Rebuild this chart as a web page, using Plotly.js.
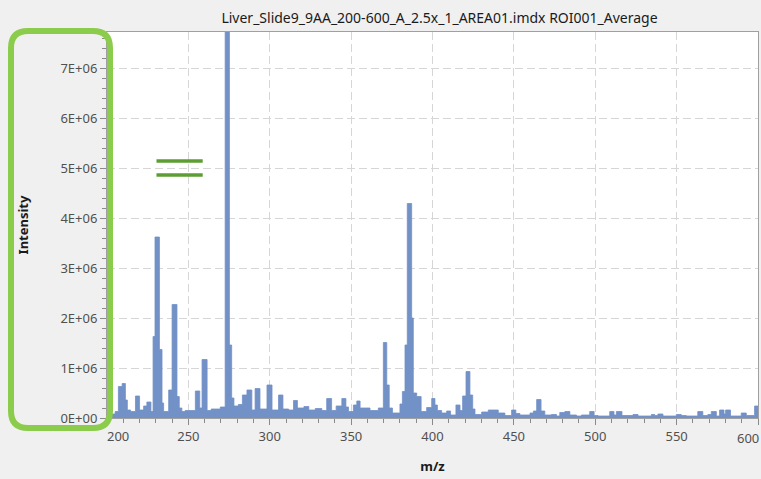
<!DOCTYPE html>
<html>
<head>
<meta charset="utf-8">
<script src="https://cdn.plot.ly/plotly-3.0.1.min.js"></script>
<style>
  html, body { margin: 0; padding: 0; background: #f0f0f0; }
  #chart { width: 761px; height: 479px; }
</style>
</head>
<body>
<div id="chart"></div>
<script>
// m/z where each step segment of the averaged spectrum starts
const mzStart = [200, 205, 207, 209.3, 211.3, 212.5, 214.5, 217.5, 220, 222.5, 224.5, 227, 228.3, 229.5, 232.2, 233.8, 234.8, 237.9, 240, 243, 244.4, 246, 248, 254.3, 257, 258.4, 261.5, 264, 269.6, 272.6, 275.2, 276.6, 278, 280.7, 283.2, 286, 289, 291, 294, 298.3, 301.4, 305.4, 308.1, 311.6, 314.6, 317, 321, 324, 328, 332, 335, 338, 340.8, 344.3, 346.8, 348.4, 351.4, 353.5, 355.5, 361.6, 366.7, 369.8, 371.9, 373.4, 375.4, 380, 381.5, 383.1, 384.5, 387.2, 388.2, 390.3, 393, 396.4, 399.5, 401.5, 403, 405.6, 408.7, 411.1, 414.4, 416.9, 418.5, 420.6, 423, 424.7, 426.1, 430.2, 434.3, 440.4, 444.5, 448.6, 451.2, 453.7, 459.9, 462, 464, 466.7, 469, 473.1, 476.2, 478.2, 481.3, 484.4, 488.5, 491.5, 496.6, 499.3, 501.7, 508.9, 511.5, 513, 516.4, 523.2, 526.3, 530.4, 534.5, 536.5, 538.5, 541.6, 549.8, 552.9, 555.9, 563, 566.1, 569.2, 571.3, 574.4, 576.4, 579.1, 580.1, 583.1, 589.7, 592.8, 597.9];
const mzEnd = 600;
// intensity of each segment
const intensity = [0.08e6, 0.13e6, 0.63e6, 0.69e6, 0.36e6, 0.16e6, 0.13e6, 0.44e6, 0.16e6, 0.24e6, 0.32e6, 0.13e6, 1.63e6, 3.62e6, 1.37e6, 0.30e6, 0.13e6, 0.56e6, 2.27e6, 0.43e6, 0.20e6, 0.13e6, 0.15e6, 0.54e6, 0.20e6, 1.17e6, 0.15e6, 0.18e6, 0.22e6, 9.0e6, 1.46e6, 0.40e6, 0.24e6, 0.27e6, 0.46e6, 0.56e6, 0.16e6, 0.59e6, 0.18e6, 0.66e6, 0.16e6, 0.46e6, 0.18e6, 0.16e6, 0.35e6, 0.20e6, 0.23e6, 0.16e6, 0.19e6, 0.15e6, 0.39e6, 0.15e6, 0.24e6, 0.39e6, 0.22e6, 0.13e6, 0.26e6, 0.34e6, 0.20e6, 0.15e6, 0.20e6, 1.51e6, 0.66e6, 0.20e6, 0.10e6, 0.28e6, 0.53e6, 1.46e6, 4.29e6, 2.0e6, 0.50e6, 0.43e6, 0.13e6, 0.21e6, 0.39e6, 0.26e6, 0.15e6, 0.10e6, 0.14e6, 0.06e6, 0.26e6, 0.15e6, 0.44e6, 0.93e6, 0.46e6, 0.18e6, 0.07e6, 0.12e6, 0.16e6, 0.10e6, 0.05e6, 0.16e6, 0.09e6, 0.06e6, 0.10e6, 0.14e6, 0.37e6, 0.14e6, 0.06e6, 0.07e6, 0.04e6, 0.11e6, 0.13e6, 0.06e6, 0.04e6, 0.06e6, 0.13e6, 0.05e6, 0.04e6, 0.13e6, 0.06e6, 0.13e6, 0.05e6, 0.07e6, 0.04e6, 0.04e6, 0.07e6, 0.05e6, 0.08e6, 0.04e6, 0.07e6, 0.05e6, 0.04e6, 0.13e6, 0.05e6, 0.07e6, 0.13e6, 0.04e6, 0.16e6, 0.08e6, 0.16e6, 0.04e6, 0.10e6, 0.05e6, 0.24e6];

const xTickVals = [200, 250, 300, 350, 400, 450, 500, 550, 600];
const xTickText = ['\u2007\u2007\u2007200', '250', '300', '350', '400', '450', '500', '550', ''];
const xLastLabel = '600';
const yTickVals = [0, 1e6, 2e6, 3e6, 4e6, 5e6, 6e6, 7e6];
const yTickText = ['0E+00', '1E+06', '2E+06', '3E+06', '4E+06', '5E+06', '6E+06', '7E+06'];

const chartTitle = 'Liver_Slide9_9AA_200-600_A_2.5x_1_AREA01.imdx ROI001_Average';
const xTitle = 'm/z';
const yTitle = 'Intensity';

// layout geometry (pixels)
const W = 761, H = 479;
const M = { l: 107, r: 3, t: 32, b: 61 };
const plotW = W - M.l - M.r, plotH = H - M.t - M.b;
const px2paperX = p => (p - M.l) / plotW;
const px2paperY = p => (H - M.b - p) / plotH;

const barColor = '#7291c6';

const xs = mzStart.concat([mzEnd]);
const ys = intensity.concat([intensity[intensity.length - 1]]);

const trace = {
  type: 'scatter',
  mode: 'lines',
  x: xs,
  y: ys,
  line: { shape: 'hv', color: barColor, width: 0.8 },
  fill: 'tozeroy',
  fillcolor: barColor,
  hoverinfo: 'skip',
  showlegend: false
};

// rounded green highlight rectangle around the y axis
const rx0 = px2paperX(11), rx1 = px2paperX(110);
const ry1 = px2paperY(31), ry0 = px2paperY(428);
const rr = 17;
const rdx = rr / plotW, rdy = rr / plotH;
const rectPath = `M ${rx0 + rdx},${ry1} L ${rx1 - rdx},${ry1} Q ${rx1},${ry1} ${rx1},${ry1 - rdy} ` +
  `L ${rx1},${ry0 + rdy} Q ${rx1},${ry0} ${rx1 - rdx},${ry0} L ${rx0 + rdx},${ry0} ` +
  `Q ${rx0},${ry0} ${rx0},${ry0 + rdy} L ${rx0},${ry1 - rdy} Q ${rx0},${ry1} ${rx0 + rdx},${ry1} Z`;

const fam = 'Noto Sans, Open Sans, sans-serif';
const axisFont = { family: fam, size: 13, color: '#505050' };
const titleFont = { family: fam, size: 13, color: '#1a1a1a' };

const layout = {
  width: W, height: H,
  margin: M,
  paper_bgcolor: '#f0f0f0',
  plot_bgcolor: '#ffffff',
  showlegend: false,
  title: {
    text: chartTitle,
    font: { family: fam, size: 14, color: '#1a1a1a' },
    x: 0.5 + 7 / plotW, xref: 'paper', xanchor: 'center',
    y: 1 - 18 / H, yref: 'container', yanchor: 'middle'
  },
  xaxis: {
    range: [200, 600],
    tickmode: 'array', tickvals: xTickVals, ticktext: xTickText,
    ticks: 'outside', ticklen: 6, tickcolor: '#8a8a8a',
    minor: { dtick: 10, tick0: 200, ticks: 'outside', ticklen: 4, tickcolor: '#8a8a8a', showgrid: false },
    showline: true, mirror: true, linecolor: '#a0a0a0', linewidth: 1,
    showgrid: true, gridcolor: '#d6d6d6', griddash: '8px,4px', gridwidth: 1,
    zeroline: false,
    tickfont: axisFont,
    title: { text: '<b>' + xTitle + '</b>', font: titleFont, standoff: 18 },
    fixedrange: true
  },
  yaxis: {
    range: [0, 7.72e6],
    tickmode: 'array', tickvals: yTickVals, ticktext: yTickText,
    ticks: 'outside', ticklen: 6, tickcolor: '#8a8a8a',
    minor: { dtick: 2e5, tick0: 0, ticks: 'outside', ticklen: 4, tickcolor: '#8a8a8a', showgrid: false },
    showline: true, mirror: true, linecolor: '#a0a0a0', linewidth: 1,
    showgrid: true, gridcolor: '#d6d6d6', griddash: '8px,4px', gridwidth: 1,
    zeroline: false,
    tickfont: axisFont,
    title: { text: '<b>' + yTitle + '</b>', font: titleFont, standoff: 28 },
    fixedrange: true
  },
  annotations: [
    {
      text: xLastLabel, x: 600, xref: 'x', xanchor: 'right', xshift: 3,
      y: 0, yref: 'paper', yanchor: 'middle', yshift: -20,
      showarrow: false, font: axisFont
    }
  ],
  shapes: [
    {
      type: 'path', xref: 'paper', yref: 'paper', path: rectPath,
      line: { color: '#8ccc4c', width: 6 }, fillcolor: 'rgba(0,0,0,0)', layer: 'above'
    },
    {
      type: 'line', xref: 'x', yref: 'y', x0: 230.4, x1: 258.8, y0: 5.14e6, y1: 5.14e6,
      line: { color: '#5c9e32', width: 3.5 }, layer: 'above'
    },
    {
      type: 'line', xref: 'x', yref: 'y', x0: 230.4, x1: 258.8, y0: 4.86e6, y1: 4.86e6,
      line: { color: '#5c9e32', width: 3.5 }, layer: 'above'
    }
  ]
};

Plotly.newPlot('chart', [trace], layout, { displayModeBar: false, staticPlot: true });
</script>
</body>
</html>
